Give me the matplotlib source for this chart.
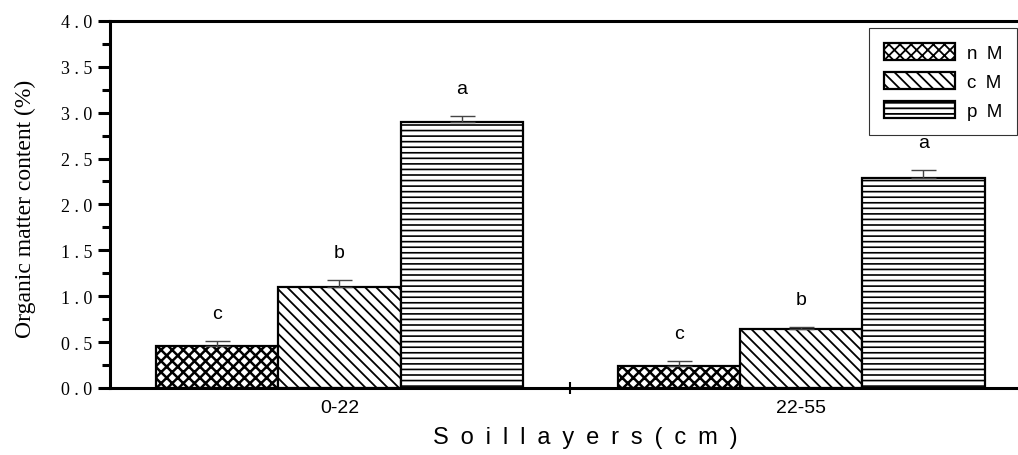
import numpy as np
import matplotlib
matplotlib.use("Agg")
import matplotlib.pyplot as plt

layers = ["0-22", "22-55"]
series = ["n M", "c M", "p M"]
values = {"n M": [0.455, 0.24],
          "c M": [1.10, 0.64],
          "p M": [2.90, 2.29]}
errors = {"n M": [0.06, 0.05],
          "c M": [0.08, 0.025],
          "p M": [0.06, 0.09]}
letters = {"n M": ["c", "c"],
           "c M": ["b", "b"],
           "p M": ["a", "a"]}
hatches = {"n M": "xxx", "c M": "\\\\\\", "p M": "---"}
hatch_lw = {"n M": 1.8, "c M": 1.3, "p M": 1.2}

plt.rcParams["hatch.linewidth"] = 1.3
plt.rcParams["font.family"] = ["Liberation Sans", "DejaVu Sans"]
SP = "\u2002"  # wide letter spacing as in the original

fig = plt.figure(figsize=(10.18, 4.56), dpi=100)
ax = fig.add_axes([0.108, 0.147, 0.892, 0.805])

x = np.arange(len(layers))
w = 0.265
for k, s in enumerate(series):
    pos = x + (k - 1) * w
    bars = ax.bar(pos, values[s], w, facecolor="white", edgecolor="black",
                  linewidth=1.6, hatch=hatches[s], label=s.replace(" ", SP),
                  zorder=2)
    for b in bars:
        if hasattr(b, "set_hatch_linewidth"):
            b.set_hatch_linewidth(hatch_lw[s])
    ax.errorbar(pos, values[s], yerr=[np.zeros(len(pos)), errors[s]],
                fmt="none", ecolor="#444444", elinewidth=1.0,
                capsize=9, capthick=1.0, zorder=3)
    for p, v, e, t in zip(pos, values[s], errors[s], letters[s]):
        ax.text(p, v + e + 0.3, t, ha="center", va="center", fontsize=14)

ax.set_xlim(-0.497, 1.47)
ax.set_ylim(0, 4.0)

yt = np.arange(0, 4.01, 0.5)
ax.set_yticks(yt)
ax.set_yticklabels([" . ".join(f"{v:.1f}".split(".")) for v in yt],
                   family=["Liberation Serif"], fontsize=13)
ax.set_yticks(np.arange(0.25, 4.0, 0.5), minor=True)
ax.tick_params(axis="y", which="major", length=9, width=2.2, direction="out")
ax.tick_params(axis="y", which="minor", length=6, width=2.2, direction="out")

ax.set_xticks([0.5])
ax.set_xticklabels([""])
ax.tick_params(axis="x", which="major", length=8, width=1.5, direction="inout")
for xi, lab in zip(x, layers):
    ax.text(xi, -0.12, lab, ha="center", va="top", fontsize=14)

ax.set_ylabel("Organic matter content (%)", family=["Liberation Serif"],
              fontsize=17)
ax.yaxis.set_label_coords(-0.081, 0.49)
fig.text(0.575, 0.04, SP.join("Soillayers") + SP + SP.join("(cm)"),
         ha="center", va="center", fontsize=17)

for side in ["left", "bottom", "top"]:
    ax.spines[side].set_linewidth(2.2)
ax.spines["right"].set_visible(False)

leg = ax.legend(loc="upper right", bbox_to_anchor=(0.999, 0.981),
                fontsize=13.5, frameon=True, fancybox=False, handlelength=3.8,
                handleheight=1.0, labelspacing=0.55, borderpad=0.8,
                handletextpad=0.6, borderaxespad=0)
leg.get_frame().set_edgecolor("black")
leg.get_frame().set_linewidth(0.8)

fig.savefig("out.png", dpi=100)
